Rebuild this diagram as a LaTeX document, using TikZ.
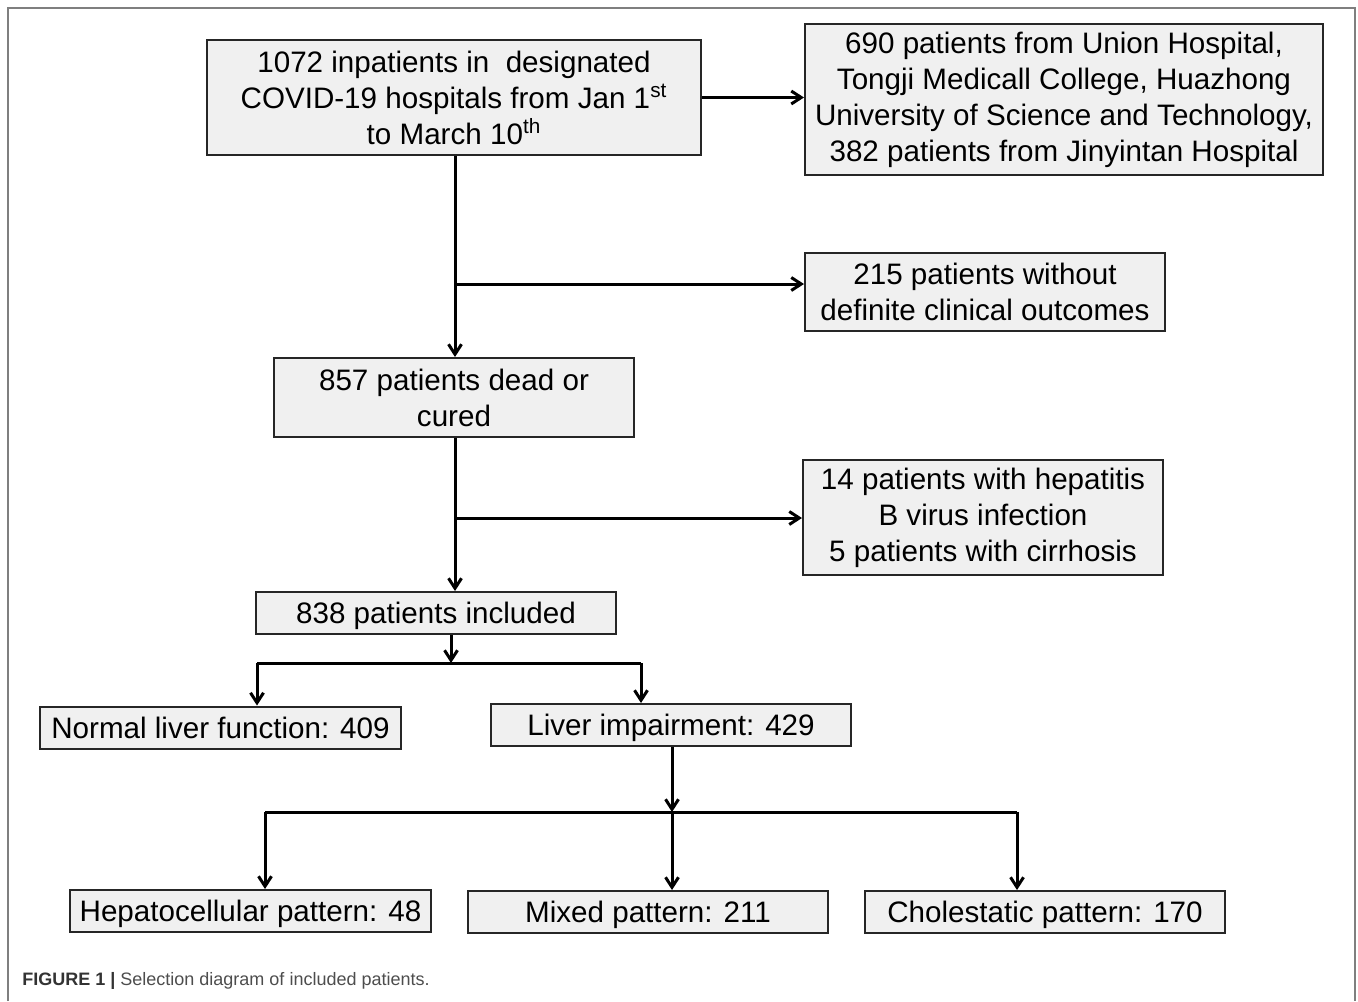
\documentclass[tikz,border=0pt]{standalone}
\usepackage{fontspec}
\setmainfont{Liberation Sans}
\usetikzlibrary{arrows.meta}
\definecolor{boxfill}{HTML}{F0F0F0}
\definecolor{framegray}{HTML}{7F7F7F}
\definecolor{capgray}{HTML}{4D4D4D}
\begin{document}
\begin{tikzpicture}[x=0.5pt,y=-0.5pt,
		box/.style={draw=black!85,line width=1pt,fill=boxfill,inner sep=0pt,align=center,
			font=\fontsize{14.8}{18}\selectfont,minimum width=180pt,minimum height=21pt},
		onebox/.style={box,text depth=0pt},
		line/.style={line width=1.5pt},
		arr/.style={line width=1.5pt,-{Straight Barb[length=5pt,width=6.5pt]}}]
			\useasboundingbox (0,0) rectangle (1358,1001);
			\draw[framegray,line width=1pt] (8,1001) -- (8,8) -- (1355,8) -- (1355,1001);
			\node[box,minimum width=247pt,minimum height=57.5pt] (inpat) at (454,97.5) {1072 inpatients in\ \ designated\\ COVID-19 hospitals from Jan 1\textsuperscript{st}\\to March 10\textsuperscript{th}};
			\node[box,minimum width=259pt,minimum height=75.5pt] (source) at (1064,99.5) {690 patients from Union Hospital,\\Tongji Medicall College, Huazhong\\University of Science and Technology,\\382 patients from Jinyintan Hospital};
			\node[box,minimum height=39pt] (nooutc) at (985,292) {215 patients without\\definite clinical outcomes};
			\node[box,minimum height=39.5pt] (outc) at (454,397.5) {857 patients dead or\\cured};
			\node[box,minimum height=57.5pt] (hbv) at (983,517.5) {14 patients with hepatitis\\B virus infection\\5 patients with cirrhosis};
			\node[onebox] (incl) at (436,613) {838 patients included};
			\node[onebox,minimum width=180.5pt] (normal) at (220.5,727.5) {Normal liver function: 409};
			\node[onebox] (impair) at (671,725) {Liver impairment: 429};
			\node[onebox,minimum width=180.5pt] (hepato) at (250.5,911) {Hepatocellular pattern: 48};
			\node[onebox] (mixed) at (648,912) {Mixed pattern: 211};
			\node[onebox] (chole) at (1045,912) {Cholestatic pattern: 170};
			\coordinate (j1) at (455,284);
			\coordinate (j2) at (455,518);
			\coordinate (s1) at (451,663);
			\coordinate (s1l) at (257,663);
			\coordinate (s1r) at (641,663);
			\coordinate (s2) at (672,812);
			\coordinate (s2l) at (265,812);
			\coordinate (s2r) at (1017,812);
			\draw[arr] (inpat.east) -- (inpat.east -| source.west);
			\draw[arr] (j1 |- inpat.south) -- (j1 |- outc.north);
			\draw[arr] (j1) -- (j1 -| nooutc.west);
			\draw[arr] (j2 |- outc.south) -- (j2 |- incl.north);
			\draw[arr] (j2) -- (j2 -| hbv.west);
			\draw[arr] (s1 |- incl.south) -- (s1);
			\draw[line] (s1l) -- (s1r);
			\draw[arr] (s1l) -- (s1l |- normal.north);
			\draw[arr] (s1r) -- (s1r |- impair.north);
			\draw[arr] (s2 |- impair.south) -- (s2);
			\draw[line] (s2l) -- (s2r);
			\draw[arr] (s2l) -- (s2l |- hepato.north);
			\draw[arr] (s2) -- (s2 |- mixed.north);
			\draw[arr] (s2r) -- (s2r |- chole.north);
			\node[anchor=west,inner sep=0pt,font=\fontsize{9}{11}\selectfont,text=capgray] (caption) at (22,981) {\textbf{\color{black!80}FIGURE 1 |} Selection diagram of included patients.};
\end{tikzpicture}
\end{document}
